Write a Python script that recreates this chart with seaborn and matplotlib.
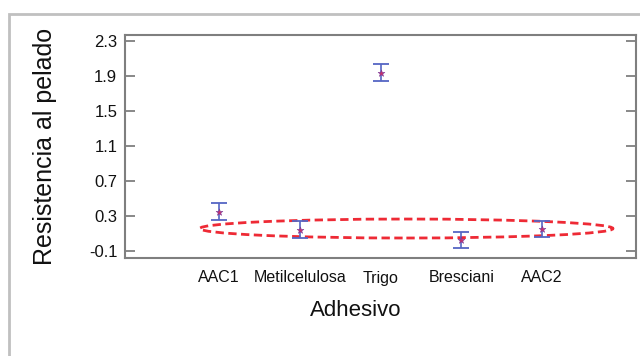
import numpy as np
import pandas as pd
from matplotlib import pyplot as plt
from matplotlib.patches import Ellipse, Rectangle
import seaborn as sns

# Data
adhesivos = ['AAC1', 'Metilcelulosa', 'Trigo', 'Bresciani', 'AAC2']
medias = [0.35, 0.145, 1.94, 0.03, 0.155]
err_inf = [0.10, 0.095, 0.095, 0.095, 0.095]
err_sup = [0.10, 0.095, 0.095, 0.09, 0.09]
yticks = [-0.1, 0.3, 0.7, 1.1, 1.5, 1.9, 2.3]

df = pd.DataFrame({'Adhesivo': adhesivos, 'Resistencia': medias})

sns.set_style("white")
plt.rcParams['font.family'] = ['Liberation Sans', 'DejaVu Sans']
plt.rcParams['text.color'] = '#111111'
plt.rcParams['axes.labelcolor'] = '#111111'
plt.rcParams['xtick.color'] = '#111111'
plt.rcParams['ytick.color'] = '#111111'

fig = plt.figure(figsize=(6.4, 3.56), dpi=100)
ax = fig.add_axes([125 / 640, 1 - 258 / 356, 511 / 640, 223 / 356])

x = np.arange(len(adhesivos))
ax.errorbar(x, medias, yerr=[err_inf, err_sup], fmt='none',
            ecolor='#5566c4', elinewidth=1.2, capsize=6, capthick=1.3, zorder=2)
sns.scatterplot(data=df, x='Adhesivo', y='Resistencia', ax=ax, marker='*',
                s=26, color='#c8306a', edgecolor='#7a3a9a', linewidth=0.4,
                zorder=3)

# dashed ellipse grouping the low values
ax.add_patch(Ellipse((2.32, 0.157), 5.11, 0.217, fill=False,
                     edgecolor='#ee2a35', linewidth=2.0, linestyle=(0, (3, 1.6)),
                     zorder=1))

ax.set_xlim(-1.16, 5.16)
ax.set_ylim(-0.18, 2.37)
ax.set_yticks(yticks)
ax.set_yticklabels([f'{v:.1f}' for v in yticks])
ax.set_xticks(x)
ax.set_xticklabels(adhesivos)

ax.tick_params(axis='y', direction='in', length=7, width=1.3, color='#7f7f7f',
               labelcolor='#111111', labelsize=12, pad=5.5, right=True, left=True)
ax.tick_params(axis='x', length=0, labelsize=11.5, pad=9, labelcolor='#111111')
for s in ax.spines.values():
    s.set_color('#7f7f7f')
    s.set_linewidth(1.5)

ax.set_ylabel('Resistencia al pelado', fontsize=18, va='center')
ax.yaxis.set_label_coords((45 - 125) / 511, 0.5)
ax.set_xlabel('Adhesivo', fontsize=16, va='center')
ax.xaxis.set_label_coords((356 - 125) / 511, (258 - 311) / 223)

# outer gray frame
fig.patches.append(Rectangle((9 / 640, -0.1), 1.2, 1 - 14 / 356 + 0.1,
                             transform=fig.transFigure, fill=False,
                             edgecolor='#c0c0c0', linewidth=2))

fig.savefig('out.png', dpi=100)
